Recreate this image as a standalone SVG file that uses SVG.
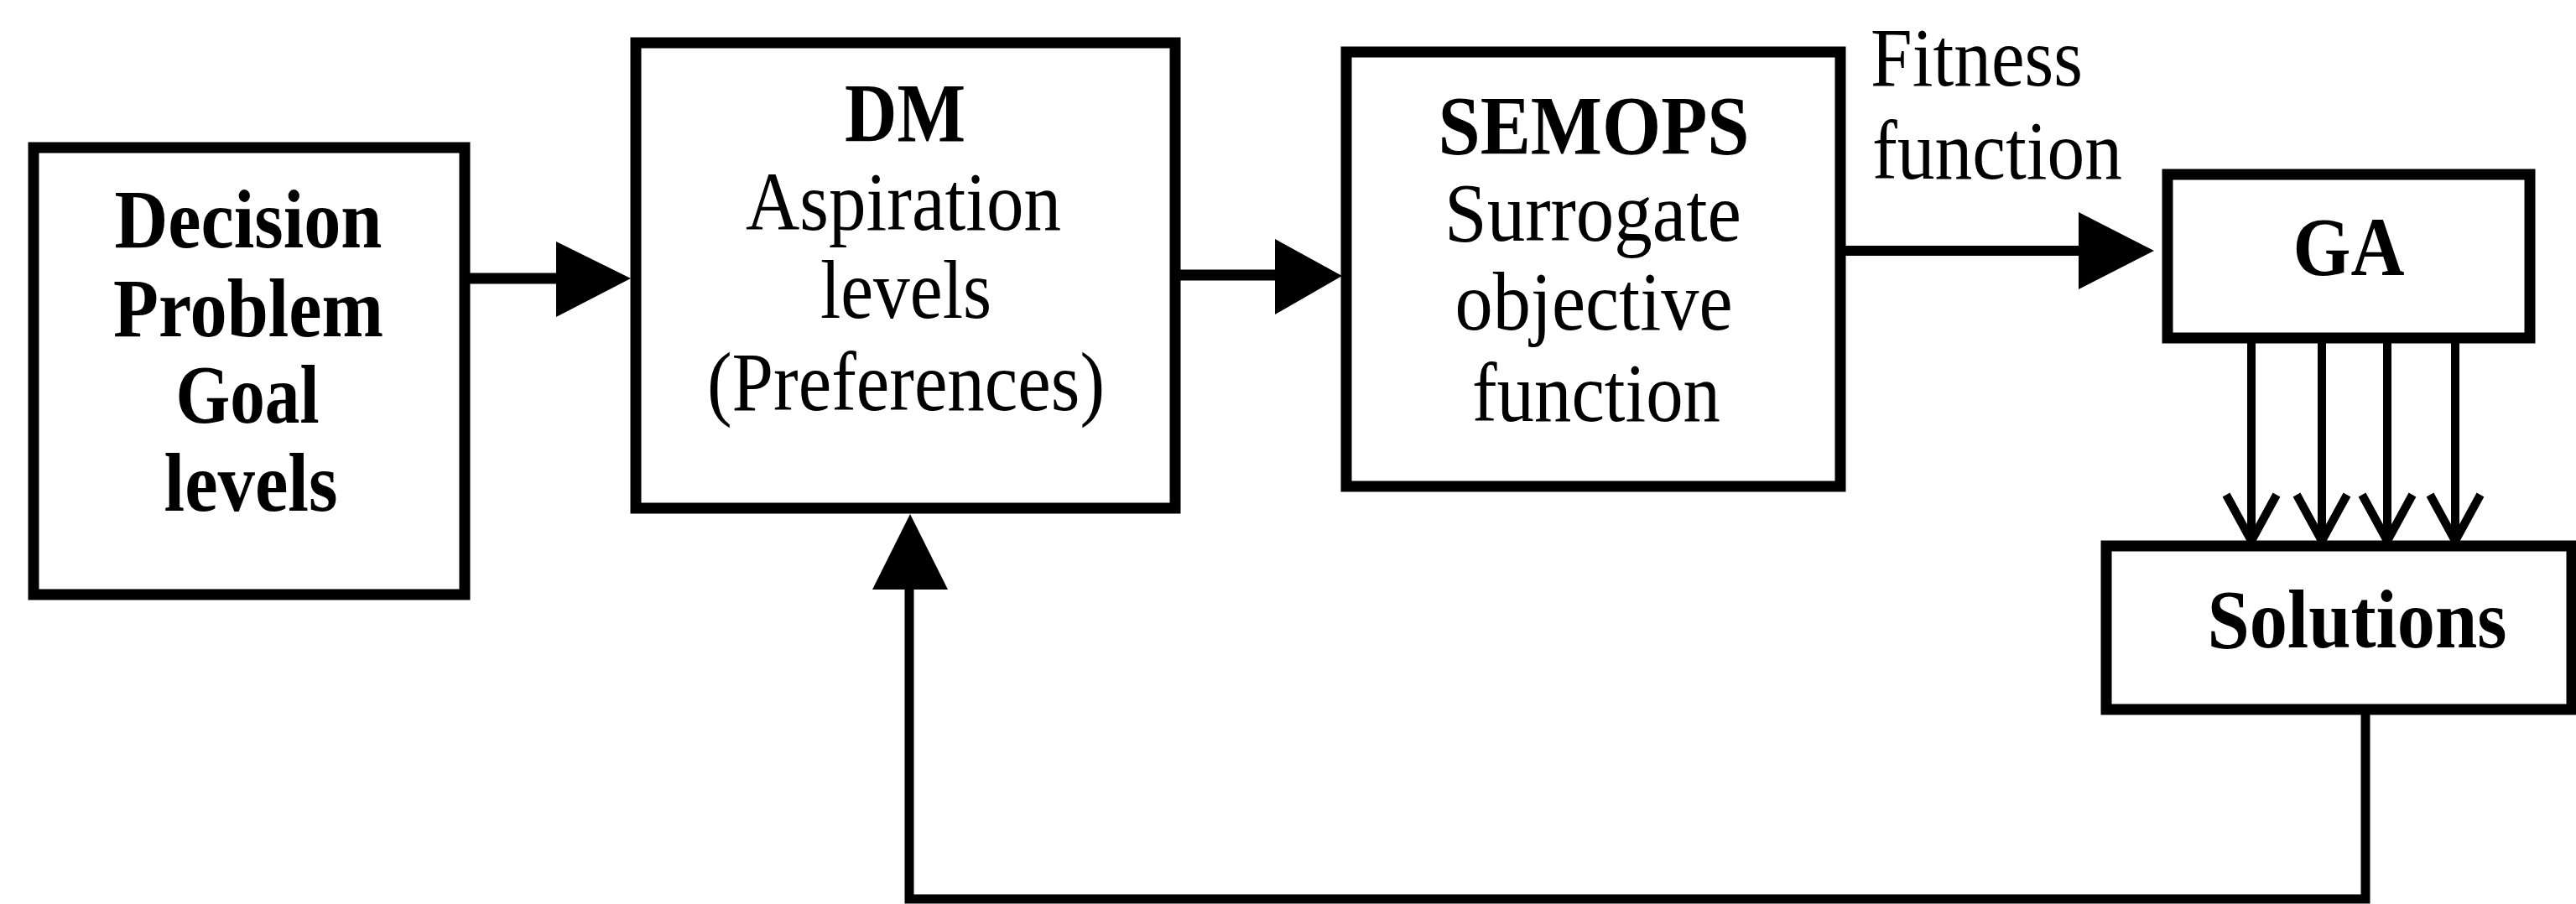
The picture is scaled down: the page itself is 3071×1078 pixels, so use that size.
<svg xmlns="http://www.w3.org/2000/svg" width="3071" height="1078" viewBox="0 0 3071 1078">
  <style>
    .box { fill: #fff; stroke: #000; stroke-width: 13; }
    .lbl { font-family: "Liberation Serif", "Times New Roman", serif; font-size: 100px; fill: #000; text-anchor: middle; }
    .b { font-weight: bold; }
    .free { text-anchor: start; }
    .wire { fill: none; stroke: #000; stroke-linecap: butt; stroke-linejoin: miter; }
    .head { fill: #000; stroke: none; }
  </style>
  <rect width="3071" height="1078" fill="#fff"/>

  <g id="decision-problem">
    <rect class="box" x="40" y="176" width="514" height="533"/>
    <text class="lbl b" x="296" y="295" textLength="319" lengthAdjust="spacingAndGlyphs">Decision</text>
    <text class="lbl b" x="296" y="401" textLength="322" lengthAdjust="spacingAndGlyphs">Problem</text>
    <text class="lbl b" x="295" y="504" textLength="171" lengthAdjust="spacingAndGlyphs">Goal</text>
    <text class="lbl b" x="299" y="609" textLength="207" lengthAdjust="spacingAndGlyphs">levels</text>
  </g>

  <g id="dm">
    <rect class="box" x="758" y="51" width="643" height="555"/>
    <text class="lbl b" x="1079" y="168" textLength="144" lengthAdjust="spacingAndGlyphs">DM</text>
    <text class="lbl" x="1077" y="274" textLength="376" lengthAdjust="spacingAndGlyphs">Aspiration</text>
    <text class="lbl" x="1080" y="379" textLength="204" lengthAdjust="spacingAndGlyphs">levels</text>
    <text class="lbl" x="1080" y="489" textLength="474" lengthAdjust="spacingAndGlyphs">(Preferences)</text>
  </g>

  <g id="semops">
    <rect class="box" x="1605" y="62" width="589" height="518"/>
    <text class="lbl b" x="1900" y="183" textLength="371" lengthAdjust="spacingAndGlyphs">SEMOPS</text>
    <text class="lbl" x="1899" y="287" textLength="354" lengthAdjust="spacingAndGlyphs">Surrogate</text>
    <text class="lbl" x="1900" y="393" textLength="331" lengthAdjust="spacingAndGlyphs">objective</text>
    <text class="lbl" x="1903" y="502" textLength="296" lengthAdjust="spacingAndGlyphs">function</text>
  </g>

  <g id="ga">
    <rect class="box" x="2584" y="208" width="432" height="195"/>
    <text class="lbl b" x="2800" y="328" textLength="133" lengthAdjust="spacingAndGlyphs">GA</text>
  </g>

  <g id="solutions">
    <rect class="box" x="2511" y="651" width="555" height="195"/>
    <text class="lbl b" x="2810" y="772" textLength="357" lengthAdjust="spacingAndGlyphs">Solutions</text>
  </g>

  <g id="connectors">
    <!-- Decision problem to DM -->
    <line class="wire" x1="554" y1="332" x2="665" y2="332" stroke-width="13"/>
    <polygon class="head" points="663,288 663,378 752,332"/>
    <!-- DM to SEMOPS -->
    <line class="wire" x1="1401" y1="328" x2="1522" y2="328" stroke-width="13"/>
    <polygon class="head" points="1520,285 1520,375 1600,329"/>
    <!-- SEMOPS to GA, labelled fitness function -->
    <line class="wire" x1="2200" y1="299" x2="2480" y2="299" stroke-width="12"/>
    <polygon class="head" points="2478,253 2478,345 2568,299"/>
    <text class="lbl free" x="2230" y="102" textLength="253" lengthAdjust="spacingAndGlyphs">Fitness</text>
    <text class="lbl free" x="2232" y="213" textLength="298" lengthAdjust="spacingAndGlyphs">function</text>
    <!-- GA to solutions, four open arrows -->
    <g stroke-width="10">
      <line class="wire" x1="2684" y1="409" x2="2684" y2="645"/>
      <polyline class="wire" points="2654,590 2684,645 2714,590"/>
      <line class="wire" x1="2768" y1="409" x2="2768" y2="645"/>
      <polyline class="wire" points="2738,590 2768,645 2798,590"/>
      <line class="wire" x1="2846" y1="409" x2="2846" y2="645"/>
      <polyline class="wire" points="2816,590 2846,645 2876,590"/>
      <line class="wire" x1="2927" y1="409" x2="2927" y2="645"/>
      <polyline class="wire" points="2897,590 2927,645 2957,590"/>
    </g>
    <!-- feedback from solutions back to DM -->
    <polyline class="wire" points="2820,852 2820,1072 1084,1072 1084,700" stroke-width="11"/>
    <polygon class="head" points="1040,703 1130,703 1085,613"/>
  </g>
</svg>
